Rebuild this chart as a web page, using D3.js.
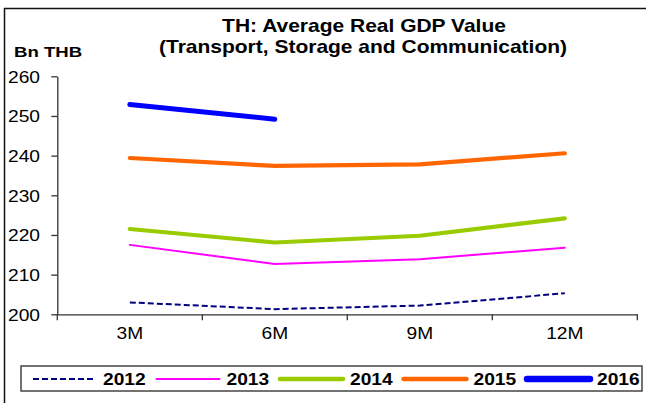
<!DOCTYPE html>
<html>
<head>
<meta charset="utf-8">
<script src="https://cdn.jsdelivr.net/npm/d3@7"></script>
<style>
  html, body { margin: 0; padding: 0; background: #fff; }
  svg { display: block; }
  text { font-family: Arial, "Liberation Sans", sans-serif; fill: #000; }
</style>
</head>
<body>
<svg id="chart" width="646" height="403"></svg>
<script>
// Quarterly cumulative periods
const periods = ["3M", "6M", "9M", "12M"];

// Average real GDP value, Bn THB, by year
const y2012 = [203.0, 201.3, 202.2, 205.3];
const y2013 = [217.5, 212.7, 213.9, 216.8];
const y2014 = [221.5, 218.1, 219.8, 224.2];
const y2015 = [239.4, 237.4, 237.8, 240.6];
const y2016 = [252.9, 249.2];

const yTicks = [200, 210, 220, 230, 240, 250, 260];

const series = [
  { name: "2012", values: y2012, color: "#000080", width: 2, dash: "6,3", legendWidth: 2 },
  { name: "2013", values: y2013, color: "#FF00FF", width: 2, dash: null, legendWidth: 2 },
  { name: "2014", values: y2014, color: "#99CC00", width: 4.2, dash: null, legendWidth: 4.5 },
  { name: "2015", values: y2015, color: "#FF6600", width: 4.2, dash: null, legendWidth: 4.5 },
  { name: "2016", values: y2016, color: "#0000FF", width: 5, dash: null, legendWidth: 6.5 }
];

const sx = 1.2; // horizontal stretch of the lettering

const svg = d3.select("#chart");

// outer frame
svg.append("rect")
  .attr("x", 4.5).attr("y", 8.5)
  .attr("width", 700).attr("height", 500)
  .attr("fill", "none").attr("stroke", "#111").attr("stroke-width", 1.5);

const x = d3.scaleBand().domain(periods).range([57.3, 637.3]).padding(0);
const y = d3.scaleLinear().domain([200, 260]).range([314.3, 76.3]);

// y axis
const yAxis = svg.append("g")
  .attr("transform", `translate(${x.range()[0]},0)`)
  .call(d3.axisLeft(y).tickValues(yTicks).tickSize(6).tickSizeOuter(0).tickFormat(d3.format("d")));
yAxis.select(".domain").attr("stroke", "#333").attr("stroke-width", 1.3);
yAxis.selectAll(".tick line").attr("stroke", "#333").attr("stroke-width", 1.3);
yAxis.selectAll(".tick text")
  .attr("x", -17.3 / sx).attr("dy", "0.36em")
  .attr("transform", `scale(${sx},1)`)
  .style("font-size", "16px")
  .attr("text-anchor", "end");

// x axis: labels centred in each period, tick marks on the period boundaries
const xAxis = svg.append("g")
  .attr("transform", `translate(0,${y(200)})`)
  .call(d3.axisBottom(x).tickSize(0).tickSizeOuter(0));
xAxis.select(".domain").attr("stroke", "#333").attr("stroke-width", 1.3);
xAxis.selectAll(".tick text")
  .attr("y", 25).attr("dy", null)
  .attr("transform", `scale(${sx},1)`)
  .style("font-size", "16px");
const bounds = periods.map(p => x(p)).concat([x(periods[periods.length - 1]) + x.bandwidth()]);
xAxis.selectAll("line.bound")
  .data(bounds)
  .join("line")
  .attr("class", "bound")
  .attr("x1", d => d).attr("x2", d => d)
  .attr("y1", 0).attr("y2", 6)
  .attr("stroke", "#333").attr("stroke-width", 1.3);

// series lines
const line = d3.line()
  .x((d, i) => x(periods[i]) + x.bandwidth() / 2)
  .y(d => y(d));

svg.append("g").selectAll("path")
  .data(series)
  .join("path")
  .attr("d", s => line(s.values))
  .attr("fill", "none")
  .attr("stroke", s => s.color)
  .attr("stroke-width", s => s.width)
  .attr("stroke-dasharray", s => s.dash)
  .attr("stroke-linecap", s => s.dash ? "butt" : "round")
  .attr("stroke-linejoin", "round");

// titles
function stretchedText(txt, cx, cy, size, weight, anchor) {
  return svg.append("text")
    .attr("transform", `translate(${cx},${cy}) scale(${sx},1)`)
    .attr("text-anchor", anchor)
    .style("font-size", size + "px")
    .style("font-weight", weight)
    .text(txt);
}
stretchedText("TH: Average Real GDP Value", 364, 32, 17.5, "bold", "middle");
stretchedText("(Transport, Storage and Communication)", 363, 53, 17.5, "bold", "middle");
stretchedText("Bn THB", 14, 57, 15.5, "bold", "start");

// legend
const legend = svg.append("g");
legend.append("rect")
  .attr("x", 21).attr("y", 366)
  .attr("width", 621).attr("height", 25)
  .attr("fill", "#fff").attr("stroke", "#444").attr("stroke-width", 1.5);

const step = 123.5;
const items = legend.selectAll("g.item")
  .data(series)
  .join("g")
  .attr("class", "item")
  .attr("transform", (d, i) => `translate(${33 + i * step},379)`);
items.append("line")
  .attr("x1", 0).attr("x2", 63)
  .attr("y1", 0).attr("y2", 0)
  .attr("stroke", d => d.color)
  .attr("stroke-width", d => d.legendWidth)
  .attr("stroke-dasharray", d => d.dash)
  .attr("stroke-linecap", d => d.dash ? "butt" : "round");
items.append("text")
  .attr("transform", `translate(70,6) scale(${sx},1)`)
  .style("font-size", "16px")
  .style("font-weight", "bold")
  .text(d => d.name);
</script>
</body>
</html>
